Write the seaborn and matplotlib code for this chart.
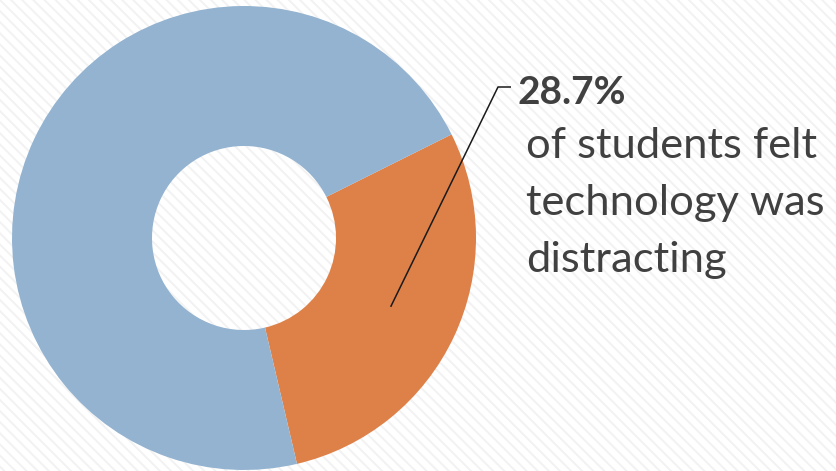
import numpy as np
import matplotlib
matplotlib.use("Agg")
import matplotlib.pyplot as plt
from matplotlib.patches import Rectangle
import seaborn as sns

# Survey share of students who found technology distracting
categories = ["Distracting", "Not distracting"]
shares = [28.7, 71.3]
colors = ["#DE8149", "#93B3D0"]
headline = "28.7%"
caption_lines = ["of students felt", "technology was", "distracting"]

sns.set_theme(style="white")
plt.rcParams["font.family"] = ["Lato", "DejaVu Sans"]
plt.rcParams["hatch.color"] = "#F2F2F2"
plt.rcParams["hatch.linewidth"] = 1.4

W, H = 837, 471
fig = plt.figure(figsize=(W / 100, H / 100), dpi=100)
fig.patch.set_facecolor("white")
ax = fig.add_axes([0, 0, 1, 1])

cx, cy = 244, H - 238
r_out, r_in = 232, 92
start = -76.8
wedges, _ = ax.pie(shares, colors=colors, startangle=start, counterclock=True,
                   center=(cx, cy), radius=r_out, frame=True,
                   wedgeprops=dict(width=r_out - r_in, edgecolor="none"))
for w in wedges:
    w.set_zorder(2)
ax.set_xlim(0, W)
ax.set_ylim(0, H)
ax.axis("off")

# Striped backdrop
ax.add_patch(Rectangle((0, 0), W, H, facecolor="white", edgecolor="#F2F2F2",
                       linewidth=0, hatch="\\\\\\", zorder=0))

# Leader line from the middle of the highlighted slice
mid = np.deg2rad(start + shares[0] / 100 * 360 / 2)
r_mid = (r_out + r_in) / 2
x0, y0 = cx + r_mid * np.cos(mid), cy + r_mid * np.sin(mid)
ax.plot([x0, 498, 511], [y0, H - 87, H - 87], color="#1a1a1a", lw=1.1,
        zorder=3, solid_capstyle="butt")

ax.text(518, H - 93, headline, fontsize=28, fontweight="bold", color="#404040",
        ha="left", va="center", zorder=4)
for i, line in enumerate(caption_lines):
    ax.text(526, H - 146 - i * 57, line, fontsize=31.3, color="#404040",
            ha="left", va="center", zorder=4)

fig.savefig("out.png", dpi=100)
